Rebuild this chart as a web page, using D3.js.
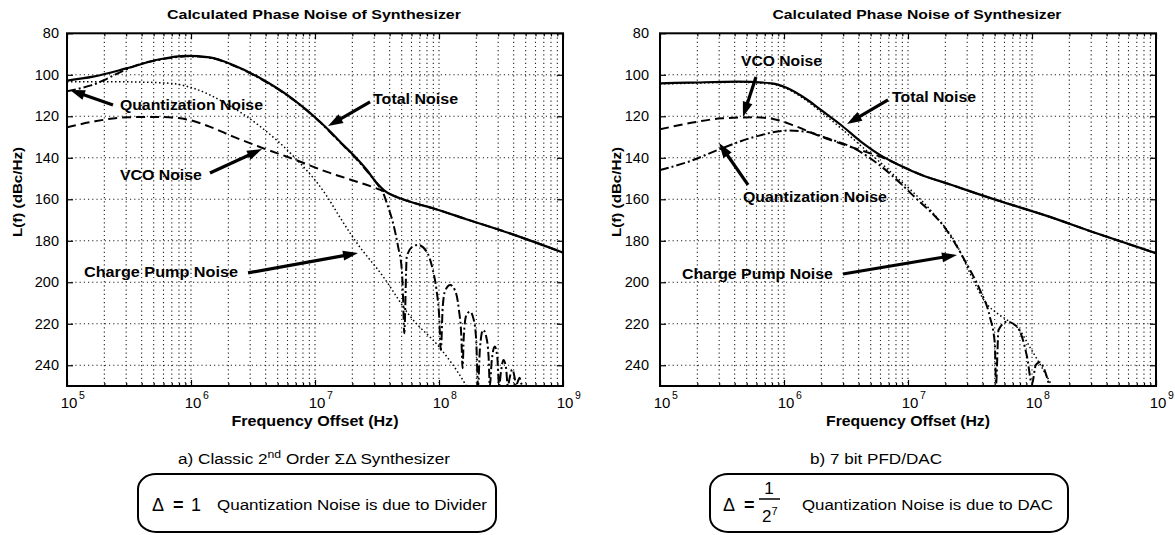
<!DOCTYPE html>
<html><head><meta charset="utf-8">
<script src="https://cdn.jsdelivr.net/npm/d3@7"></script>
<style>
body{margin:0;background:#fff}
svg{display:block}
text{font-family:"Liberation Sans",Arial,Helvetica,sans-serif;fill:#000}
</style>
</head><body>
<svg id="c" width="1175" height="535"></svg>
<script>
// ---------------- DATA (log10 of frequency offset in Hz, L(f) in dBc/Hz shown as positive) -------------
const yTickValues = [80,100,120,140,160,180,200,220,240];
const xDecades = [5,6,7,8,9];
const chartTitle = "Calculated Phase Noise of Synthesizer";
const xLabel = "Frequency Offset (Hz)";
const yLabel = "L(f) (dBc/Hz)";
const seriesNames = ["Total Noise","VCO Noise","Quantization Noise","Charge Pump Noise"];

// Panel a) Classic 2nd order Sigma-Delta
const aTotal = [[5.0,102.8],[5.21,100.9],[5.48,96.9],[5.75,92.5],[5.965,90.9],[6.15,91.6],[6.34,95.3],[6.56,101.7],[6.83,112.1],[7.04,122.6],[7.12,127.2],[7.2,132.2],[7.31,138.7],[7.42,146],[7.5,152.3],[7.56,155.8],[7.62,158],[7.69,159.6],[7.8,161.8],[7.95,164.3],[8.22,169.6],[8.49,174.8],[8.76,180.4],[9.0,185.7]];
const aVco = [[5.0,125.3],[5.21,122.6],[5.48,120.5],[5.75,120.3],[5.965,121.5],[6.15,125],[6.34,129.8],[6.56,134.9],[6.83,140.7],[7.09,146.7],[7.3,150.8],[7.52,155.3],[7.69,159.6],[7.8,161.8],[7.95,164.3],[8.22,169.6],[8.49,174.8],[8.76,180.4],[9.0,185.7]];
const aQuant = [[5.0,108],[5.1,106.6],[5.2,105],[5.3,102.5],[5.4,99.6],[5.5,96.8],[5.6,94.6],[5.75,92.7],[5.9,91.4],[5.965,91.1],[6.15,91.8],[6.34,95.5],[6.56,101.9],[6.83,112.3],[7.04,122.8],[7.2,132.4],[7.31,139],[7.42,146.5],[7.5,152.5],[7.55,157],[7.58,162],[7.63,171.6],[7.67,182.8],[7.70,194],[7.71,207],[7.72,224.6],[7.74,187.7],[7.78,183.1],[7.83,182],[7.90,185.2],[7.95,194],[7.98,203.7],[8.0,215],[8.015,232.6],[8.03,212],[8.05,204],[8.09,201.3],[8.13,204],[8.16,213],[8.18,226],[8.19,241.4],[8.2,226],[8.22,216],[8.25,214.2],[8.28,218],[8.30,228],[8.315,250],[8.33,232],[8.355,223],[8.38,226],[8.40,236],[8.41,250],[8.425,238],[8.45,231],[8.47,236],[8.485,250],[8.50,243],[8.52,237.5],[8.54,241],[8.555,250],[8.57,246],[8.59,242],[8.61,246],[8.62,250],[8.635,248],[8.65,246],[8.665,249],[8.68,250]];
const aCp = [[5.0,103.3],[5.2,103.3],[5.48,103.4],[5.83,104.1],[6.02,106.5],[6.29,114.1],[6.56,125],[6.83,139.5],[7.09,158],[7.2,168.6],[7.32,179.6],[7.55,197.3],[7.77,216.6],[8.01,231.8],[8.2,247.9],[8.23,251]];

// Panel b) 7 bit PFD/DAC
const bTotal = [[5.0,104.1],[5.23,103.8],[5.63,103.3],[5.9,104.1],[6.03,106.5],[6.17,111.3],[6.3,117],[6.46,124.2],[6.62,132.2],[6.77,138.5],[6.94,143.8],[7.11,148.3],[7.31,152.3],[7.71,160.3],[8.12,168],[8.52,176.4],[9.0,186]];
const bVco = [[5.0,126.3],[5.23,123.4],[5.5,121],[5.77,120.5],[5.93,121.5],[6.09,124.7],[6.3,129.8],[6.57,135.4],[6.84,141],[6.94,143.8],[7.11,148.3],[7.31,152.3],[7.71,160.3],[8.12,168],[8.52,176.4],[9.0,186]];
const bQuant = [[5.0,145.9],[5.23,141.9],[5.5,135.4],[5.77,129.8],[6.03,126.9],[6.17,127.4],[6.35,130.6],[6.57,135.6],[6.77,143.5],[7.05,158.7],[7.31,174.8],[7.47,190.8],[7.58,203.7],[7.66,216.6],[7.70,229.4],[7.71,249],[7.73,223],[7.8,219],[7.88,221.4],[7.96,235.9],[8.0,249],[8.03,240],[8.06,238.5],[8.11,243.8],[8.14,250]];
const bCp = [[5.0,104.4],[5.23,104.1],[5.63,103.6],[5.9,104.4],[6.03,106.9],[6.17,112],[6.3,118],[6.46,125.8],[6.62,134.2],[6.77,141.9],[6.9,149],[7.05,157.1],[7.2,166.5],[7.4,182.8],[7.5,195.7],[7.63,210.1],[7.72,215],[7.8,218.2],[7.9,223],[7.98,231],[8.06,239],[8.15,248.7],[8.17,251]];

// ---------------- DRAWING ----------------
const svg = d3.select("#c");
const W = 496, TOP = 33.3, BOT = 386;
const FONT = '"Liberation Sans",Arial,sans-serif';

function fit(t, len) { return t.attr("textLength", len).attr("lengthAdjust", "spacingAndGlyphs"); }

function arrow(g, x1, y1, x2, y2) {
  const dx = x2 - x1, dy = y2 - y1, L = Math.hypot(dx, dy);
  const ux = dx / L, uy = dy / L, hl = 15, hw = 5;
  const bx = x2 - ux * hl, by = y2 - uy * hl;
  g.append("line").attr("x1", x1).attr("y1", y1).attr("x2", bx + ux * 2).attr("y2", by + uy * 2)
    .attr("stroke", "#000").attr("stroke-width", 3.2);
  g.append("path").attr("d", `M${x2},${y2}L${bx - uy * hw},${by + ux * hw}L${bx + uy * hw},${by - ux * hw}Z`)
    .attr("fill", "#000");
}

function panel(P) {
  const g = svg.append("g");
  const x = d3.scaleLog().domain([1e5, 1e9]).range([P.left, P.left + W]);
  const y = d3.scaleLinear().domain([80, 250]).range([TOP, BOT]);
  const X = e => x(Math.pow(10, e));

  const minor = [];
  xDecades.slice(0, -1).forEach(d => { for (let m = 1; m < 10; m++) minor.push(m * Math.pow(10, d)); });
  minor.push(1e9);
  const majors = xDecades.map(d => Math.pow(10, d));

  // grid
  const grid = g.append("g").attr("stroke", "#222").attr("stroke-width", 1.1).attr("stroke-dasharray", "1.2,3");
  grid.selectAll("line.v").data(minor.filter(v => v > 1e5 && v < 1e9)).join("line")
    .attr("x1", d => x(d)).attr("x2", d => x(d)).attr("y1", TOP).attr("y2", BOT);
  grid.selectAll("line.h").data(yTickValues.filter(v => v > 80)).join("line").attr("class", "h")
    .attr("x1", P.left).attr("x2", P.left + W).attr("y1", d => y(d)).attr("y2", d => y(d));

  // ticks (inward, all four sides)
  const minorOnly = minor.filter(v => !majors.includes(v));
  const tickG = (axis, tr) => { const a = g.append("g").attr("transform", tr).call(axis); a.select(".domain").remove(); a.selectAll("line").attr("stroke-width", 1.2); return a; };
  tickG(d3.axisBottom(x).tickValues(minorOnly).tickSizeInner(-3).tickSizeOuter(0).tickFormat(""), `translate(0,${BOT})`);
  tickG(d3.axisTop(x).tickValues(minorOnly).tickSizeInner(-3).tickSizeOuter(0).tickFormat(""), `translate(0,${TOP})`);
  tickG(d3.axisBottom(x).tickValues(majors).tickSizeInner(-6).tickSizeOuter(0).tickFormat(""), `translate(0,${BOT})`);
  tickG(d3.axisTop(x).tickValues(majors).tickSizeInner(-6).tickSizeOuter(0).tickFormat(""), `translate(0,${TOP})`);
  tickG(d3.axisRight(y).tickValues(yTickValues).tickSizeInner(-6).tickSizeOuter(0).tickFormat(""), `translate(${P.left + W},0)`);
  const yl = tickG(d3.axisLeft(y).tickValues(yTickValues).tickSizeInner(-6).tickSizeOuter(0).tickPadding(P.ypad).tickFormat(d3.format("d")), `translate(${P.left},0)`);
  yl.selectAll("text").style("font-family", FONT).style("font-size", "14.5px").attr("fill", "#000");

  // x tick labels 10^n
  const xl = g.append("g").selectAll("g").data(xDecades).join("g")
    .attr("transform", d => `translate(${X(d)},408)`);
  xl.append("text").attr("text-anchor", "middle").attr("x", 2).style("font-size", "15px").text("10");
  xl.append("text").attr("x", 12).attr("y", -9).style("font-size", "10.5px").text(d => d);

  // curves
  const line = d3.line().x(d => X(d[0])).y(d => y(d[1])).curve(d3.curveMonotoneX);
  const clipId = "clip" + P.left;
  g.append("clipPath").attr("id", clipId).append("rect").attr("x", P.left).attr("y", TOP).attr("width", W).attr("height", BOT - TOP);
  const cg = g.append("g").attr("clip-path", `url(#${clipId})`).attr("fill", "none").attr("stroke", "#000");
  cg.append("path").datum(P.cp).attr("d", line).attr("stroke-width", 1.5).attr("stroke-dasharray", "1.5,2.5");
  cg.append("path").datum(P.quant).attr("d", line).attr("stroke-width", 2).attr("stroke-dasharray", "9,3,2,3");
  cg.append("path").datum(P.vco).attr("d", line).attr("stroke-width", 2).attr("stroke-dasharray", "9,5");
  cg.append("path").datum(P.total).attr("d", line).attr("stroke-width", 2.2);

  // frame
  g.append("rect").attr("x", P.left).attr("y", TOP).attr("width", W).attr("height", BOT - TOP)
    .attr("fill", "none").attr("stroke", "#000").attr("stroke-width", 2);

  // titles
  fit(g.append("text").attr("x", P.titleX).attr("y", 19).attr("text-anchor", "middle")
    .style("font-size", "12.5px").style("font-weight", "bold").text(chartTitle), P.titleLen);
  fit(g.append("text").attr("x", P.left + W / 2).attr("y", 426).attr("text-anchor", "middle")
    .style("font-size", "14px").style("font-weight", "bold").text(xLabel), P.xlabLen);
  fit(g.append("text").attr("transform", `translate(${P.left - P.ylabOff},192) rotate(-90)`).attr("text-anchor", "middle")
    .style("font-size", "13.5px").style("font-weight", "bold").text(yLabel), 90);

  // annotations
  P.notes.forEach(n => {
    fit(g.append("text").attr("x", X(n.tx)).attr("y", y(n.ty)).attr("dy", "0.36em")
      .style("font-size", "14px").style("font-weight", "bold").text(seriesNames[n.s]), n.len);
    arrow(g, X(n.ax), y(n.ay), X(n.bx), y(n.by));
  });

  // caption
  const cap = g.append("text").attr("x", P.capX).attr("y", 464).attr("text-anchor", "middle").style("font-size", "14px");
  P.caption(cap);
  fit(cap, P.capLen);

  // bottom box
  g.append("rect").attr("x", P.boxX).attr("y", 474).attr("width", 358).attr("height", 58).attr("rx", 18).attr("ry", 15)
    .attr("fill", "none").attr("stroke", "#000").attr("stroke-width", 2);
  P.box(g);
  return g;
}

panel({
  left: 67, ypad: 8, ylabOff: 45, titleX: 314, titleLen: 294, xlabLen: 167, capX: 314, capLen: 272, boxX: 138,
  total: aTotal, vco: aVco, quant: aQuant, cp: aCp,
  notes: [
    {s: 2, len: 143, tx: 5.427, ty: 114.6, ax: 5.371, ay: 114.6, bx: 5.024, by: 107.3},
    {s: 0, len: 85, tx: 7.468, ty: 111.7, ax: 7.444, ay: 113.1, bx: 7.105, by: 124.7},
    {s: 1, len: 82, tx: 5.427, ty: 148.3, ax: 6.153, ay: 147.3, bx: 6.573, by: 135.8},
    {s: 3, len: 154, tx: 5.137, ty: 195.0, ax: 6.46, ay: 195.5, bx: 7.347, by: 185.9}
  ],
  caption: t => { t.append("tspan").text("a) Classic 2"); t.append("tspan").attr("dy", -6).style("font-size", "10px").text("nd"); t.append("tspan").attr("dy", 6).text(" Order ΣΔ Synthesizer"); },
  box: g => {
    g.append("text").attr("x", 152).attr("y", 511).style("font-size", "18px").text("Δ");
    g.append("text").attr("x", 173).attr("y", 511).style("font-size", "18px").style("font-weight", "bold").text("=");
    g.append("text").attr("x", 191).attr("y", 511).style("font-size", "18px").text("1");
    fit(g.append("text").attr("x", 217).attr("y", 510).style("font-size", "15.5px").text("Quantization Noise is due to Divider"), 270);
  }
});

panel({
  left: 660, ypad: 11, ylabOff: 39, titleX: 917, titleLen: 289, xlabLen: 164, capX: 876, capLen: 132, boxX: 710,
  total: bTotal, vco: bVco, quant: bQuant, cp: bCp,
  notes: [
    {s: 1, len: 81, tx: 5.653, ty: 93.3, ax: 5.774, ay: 101.1, bx: 5.669, by: 120.3},
    {s: 0, len: 84, tx: 6.871, ty: 110.7, ax: 6.839, ay: 112.1, bx: 6.508, by: 123.7},
    {s: 2, len: 144, tx: 5.669, ty: 158.8, ax: 5.71, ay: 153.1, bx: 5.476, by: 132.9},
    {s: 3, len: 151, tx: 5.177, ty: 196.0, ax: 6.476, ay: 196.0, bx: 7.395, by: 186.8}
  ],
  caption: t => t.text("b) 7 bit PFD/DAC"),
  box: g => {
    g.append("text").attr("x", 723).attr("y", 511).style("font-size", "18px").text("Δ");
    g.append("text").attr("x", 744).attr("y", 511).style("font-size", "18px").style("font-weight", "bold").text("=");
    g.append("text").attr("x", 769).attr("y", 494).attr("text-anchor", "middle").style("font-size", "17px").text("1");
    g.append("line").attr("x1", 759).attr("x2", 780).attr("y1", 499).attr("y2", 499).attr("stroke", "#000").attr("stroke-width", 1.5);
    const f = g.append("text").attr("x", 762).attr("y", 522).style("font-size", "17px");
    f.append("tspan").text("2"); f.append("tspan").attr("dy", -7).style("font-size", "11px").text("7");
    fit(g.append("text").attr("x", 802).attr("y", 510).style("font-size", "15.5px").text("Quantization Noise is due to DAC"), 251);
  }
});
</script>
</body></html>
